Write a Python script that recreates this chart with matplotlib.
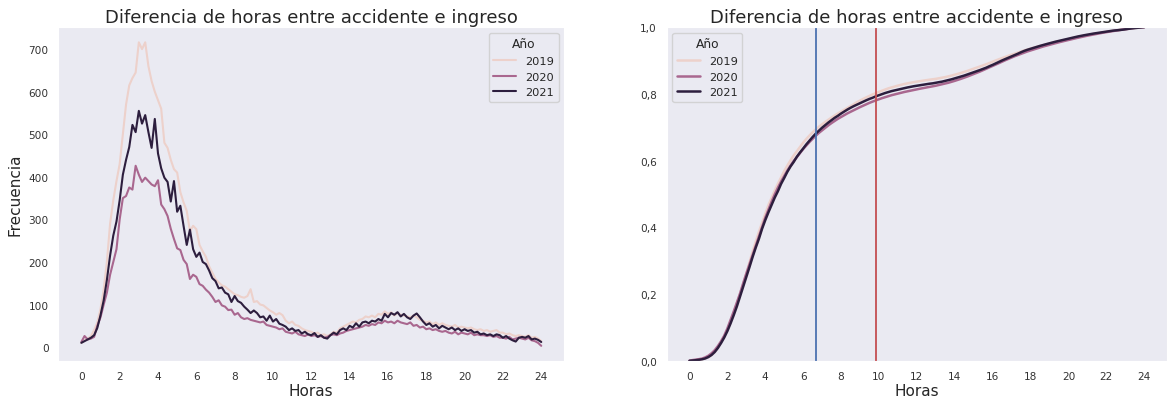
import matplotlib
matplotlib.use('agg')
import matplotlib.pyplot as plt
import numpy as np
import seaborn as sns
from matplotlib.ticker import FuncFormatter

# Frequency per 10-minute bin (one row per hour)
freq_2019 = [
    10, 16, 20, 26, 40, 58,
    90, 135, 200, 290, 345, 390,
    430, 500, 570, 615, 632, 645,
    716, 700, 716, 660, 625, 600,
    580, 560, 480, 468, 440, 418,
    410, 364, 340, 320, 272, 285,
    277, 240, 225, 212, 190, 175,
    160, 152, 145, 142, 136, 130,
    124, 122, 118, 116, 120, 136,
    106, 108, 100, 98, 92, 86,
    82, 76, 80, 75, 62, 56,
    60, 52, 50, 44, 40, 38,
    36, 32, 34, 28, 30, 26,
    30, 36, 34, 44, 48, 52,
    56, 60, 58, 64, 66, 72,
    70, 74, 70, 78, 76, 84,
    78, 82, 74, 80, 76, 74,
    72, 70, 74, 70, 64, 62,
    58, 60, 54, 58, 52, 56,
    52, 50, 48, 52, 46, 48,
    46, 44, 46, 42, 40, 42,
    38, 40, 36, 38, 40, 34,
    34, 30, 32, 28, 26, 28,
    26, 24, 28, 22, 24, 20,
    14,
]
freq_2020 = [
    12, 26, 18, 20, 24, 50,
    70, 100, 128, 170, 200, 230,
    300, 350, 355, 375, 370, 426,
    405, 388, 398, 390, 382, 378,
    392, 335, 324, 308, 278, 254,
    232, 228, 205, 195, 160, 170,
    165, 148, 144, 135, 128, 118,
    106, 110, 98, 95, 87, 88,
    76, 80, 70, 66, 68, 64,
    62, 60, 58, 60, 52, 50,
    48, 46, 42, 44, 36, 34,
    32, 36, 30, 28, 26, 30,
    26, 28, 24, 26, 22, 24,
    28, 30, 28, 32, 34, 38,
    40, 42, 44, 46, 48, 52,
    50, 54, 52, 58, 56, 62,
    58, 60, 56, 62, 58, 56,
    54, 58, 50, 52, 46, 48,
    42, 44, 40, 42, 38, 36,
    38, 34, 32, 36, 30, 34,
    32, 30, 34, 28, 30, 28,
    28, 26, 28, 24, 26, 22,
    22, 20, 24, 18, 20, 22,
    20, 18, 22, 16, 14, 10,
    3,
]
freq_2021 = [
    10, 14, 18, 22, 28, 45,
    75, 110, 158, 215, 262, 295,
    345, 405, 440, 470, 522, 505,
    555, 525, 545, 505, 468, 536,
    455, 420, 398, 388, 342, 390,
    318, 332, 285, 240, 276, 230,
    212, 222, 200, 195, 180, 162,
    155, 138, 140, 128, 124, 106,
    120, 108, 104, 95, 88, 80,
    86, 80, 70, 72, 62, 74,
    60, 66, 55, 52, 48, 40,
    44, 38, 40, 32, 36, 30,
    28, 33, 24, 28, 22, 20,
    28, 34, 30, 40, 44, 40,
    50, 46, 56, 48, 58, 60,
    56, 62, 60, 66, 62, 78,
    70, 80, 76, 82, 72, 78,
    70, 66, 74, 79, 70, 60,
    52, 56, 48, 52, 44, 50,
    46, 42, 46, 40, 44, 38,
    42, 38, 40, 34, 36, 30,
    32, 28, 30, 26, 30, 28,
    22, 26, 20, 16, 13, 22,
    24, 22, 26, 18, 20, 17,
    12,
]
years = [2019, 2020, 2021]
series = [freq_2019, freq_2020, freq_2021]
hours = np.arange(len(freq_2019)) / 6
vline_blue = 6.7
vline_red = 9.84

sns.set_style('dark')
plt.rcParams['font.family'] = ['DejaVu Sans']

cmap = sns.cubehelix_palette(as_cmap=True)
colors = [cmap(0.0), cmap(0.5), cmap(1.0)]
title = 'Diferencia de horas entre accidente e ingreso'

fig = plt.figure(figsize=(11.67, 4.02), dpi=100)
ax1 = fig.add_axes([0.050, 0.0995, 0.4335, 0.8305])
ax2 = fig.add_axes([0.5713, 0.0995, 0.4287, 0.8305])

# Left: frequency lines
for yr, vals, c in zip(years, series, colors):
    ax1.plot(hours, vals, color=c, lw=1.5, label=str(yr))
ax1.set_xlim(-1.2, 25.2)
ax1.set_xticks(range(0, 25, 2))
ax1.set_yticks(range(0, 701, 100))
ax1.tick_params(labelsize=7.6, colors='#333333')
ax1.set_title(title, fontsize=13, color='#262626', pad=4)
ax1.set_xlabel('Horas', fontsize=11, labelpad=1.5)
ax1.set_ylabel('Frecuencia', fontsize=11)
ax1.legend(title='Año', loc='upper right', fontsize=8.2, title_fontsize=8.8)

# Right: cumulative proportion from the same counts
for yr, vals, c in zip(years, series, colors):
    v = np.array(vals, dtype=float)
    ecdf = np.cumsum(v) / v.sum()
    ax2.plot(hours, ecdf, color=c, lw=1.8, label=str(yr))
ax2.axvline(vline_blue, color='#4C72B0', lw=1.3)
ax2.axvline(vline_red, color='#C44E52', lw=1.3)
ax2.set_xlim(-1.2, 25.2)
ax2.set_ylim(0, 1)
ax2.set_xticks(range(0, 25, 2))
ax2.set_yticks(np.arange(0, 1.01, 0.2))
ax2.yaxis.set_major_formatter(FuncFormatter(lambda y, _: f'{y:.1f}'.replace('.', ',')))
ax2.tick_params(labelsize=7.6, colors='#333333')
ax2.set_title(title, fontsize=13, color='#262626', pad=4)
ax2.set_xlabel('Horas', fontsize=11, labelpad=1.5)
ax2.legend(title='Año', loc='upper left', fontsize=8.2, title_fontsize=8.8)

plt.savefig('out.png', dpi=100)
